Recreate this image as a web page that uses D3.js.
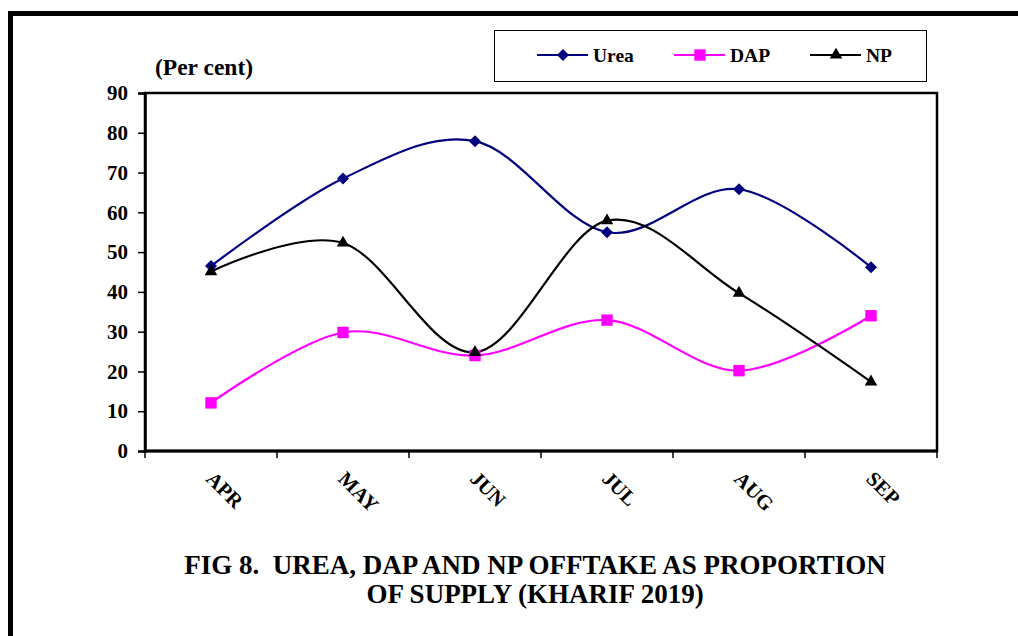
<!DOCTYPE html>
<html>
<head>
<meta charset="utf-8">
<script src="https://cdn.jsdelivr.net/npm/d3@7"></script>
<style>
  body { margin: 0; background: #fff; }
  svg { display: block; }
  svg text { font-family: "Liberation Serif", "Times New Roman", serif; font-weight: bold; white-space: pre; }
</style>
</head>
<body>
<svg id="chart" width="1018" height="636"></svg>
<script>
const months = ['APR', 'MAY', 'JUN', 'JUL', 'AUG', 'SEP']
const urea = [46.5, 68.5, 77.9, 55.0, 65.8, 46.2]
const dap = [12.1, 29.8, 24.0, 32.9, 20.2, 34.0]
const np = [45.1, 52.3, 24.8, 57.9, 39.7, 17.4]
const yTicks = [0, 10, 20, 30, 40, 50, 60, 70, 80, 90]
const seriesNames = ['Urea', 'DAP', 'NP']
const titleLines = ['FIG 8.  UREA, DAP AND NP OFFTAKE AS PROPORTION', 'OF SUPPLY (KHARIF 2019)']

const svg = d3.select('#chart')
const plot = { left: 145, top: 93, right: 937, bottom: 451 }

// outer frame
svg.append('rect')
  .attr('x', 10.5).attr('y', 13.5)
  .attr('width', 1030).attr('height', 660)
  .attr('fill', 'none').attr('stroke', '#000').attr('stroke-width', 5)

const x = d3.scaleBand().domain(months).range([plot.left, plot.right])
const y = d3.scaleLinear().domain([0, 90]).range([plot.bottom, plot.top])

// plot area box
svg.append('rect')
  .attr('x', plot.left).attr('y', plot.top)
  .attr('width', plot.right - plot.left).attr('height', plot.bottom - plot.top)
  .attr('fill', 'none').attr('stroke', '#000').attr('stroke-width', 2.5)

// y axis
const yAxis = svg.append('g')
  .attr('transform', `translate(${plot.left},0)`)
  .call(d3.axisLeft(y).tickValues(yTicks).tickSize(7).tickPadding(10))
yAxis.attr('font-family', null).attr('font-size', null)
yAxis.select('.domain').attr('stroke-width', 2.5)
yAxis.selectAll('line').attr('stroke-width', 1.5)
yAxis.selectAll('text').attr('font-size', 21).attr('fill', '#000')

// x axis, ticks sit on the band edges
const xEdges = months.map((m) => x(m)).concat([plot.right])
const xAxis = svg.append('g')
  .attr('transform', `translate(0,${plot.bottom})`)
xAxis.append('line')
  .attr('x1', plot.left).attr('x2', plot.right)
  .attr('stroke', '#000').attr('stroke-width', 3)
xAxis.selectAll('line.tick')
  .data(xEdges)
  .enter().append('line')
  .attr('class', 'tick')
  .attr('x1', (d) => d).attr('x2', (d) => d)
  .attr('y1', 0).attr('y2', 7)
  .attr('stroke', '#000').attr('stroke-width', 1.5)
xAxis.selectAll('text')
  .data(months)
  .enter().append('text')
  .attr('transform', (d) => `translate(${x(d) + x.bandwidth() / 2 - 6},${29}) rotate(45)`)
  .attr('font-size', 20.5)
  .attr('fill', '#000')
  .text((d) => d)

// y caption
svg.append('text')
  .attr('x', 155).attr('y', 75)
  .attr('font-size', 23.5)
  .text('(Per cent)')

const cx = (i) => x(months[i]) + x.bandwidth() / 2
const line = d3.line()
  .x((d, i) => cx(i))
  .y((d) => y(d))
  .curve(d3.curveCatmullRom.alpha(0))

// diamond is a square turned 45deg
const series = [
  { name: seriesNames[0], values: urea, color: '#000080', symbol: d3.symbolSquare, size: 72, rot: 45 },
  { name: seriesNames[1], values: dap, color: '#ff00ff', symbol: d3.symbolSquare, size: 130, rot: 0 },
  { name: seriesNames[2], values: np, color: '#000000', symbol: d3.symbolTriangle, size: 68, rot: 0 }
]

series.forEach((s) => {
  svg.append('path')
    .attr('d', line(s.values))
    .attr('fill', 'none')
    .attr('stroke', s.color)
    .attr('stroke-width', 2.2)
})
series.forEach((s) => {
  svg.selectAll(null)
    .data(s.values)
    .enter().append('path')
    .attr('transform', (d, i) => `translate(${cx(i)},${y(d)}) rotate(${s.rot})`)
    .attr('d', d3.symbol().type(s.symbol).size(s.size))
    .attr('fill', s.color)
})

// legend
const legend = svg.append('g')
legend.append('rect')
  .attr('x', 494.5).attr('y', 30.5)
  .attr('width', 432).attr('height', 51)
  .attr('fill', '#fff').attr('stroke', '#000').attr('stroke-width', 1)
const legendX = [537, 674, 810]
series.forEach((s, i) => {
  const g = legend.append('g').attr('transform', `translate(${legendX[i]},55)`)
  g.append('line').attr('x1', 0).attr('x2', 51)
    .attr('stroke', s.color).attr('stroke-width', 2.2)
  g.append('path')
    .attr('transform', `translate(26,0) rotate(${s.rot})`)
    .attr('d', d3.symbol().type(s.symbol).size(s.size))
    .attr('fill', s.color)
  g.append('text').attr('x', 56).attr('y', 7)
    .attr('font-size', 19.5)
    .text(s.name)
})

// title
svg.selectAll('text.title')
  .data(titleLines)
  .enter().append('text')
  .attr('class', 'title')
  .attr('x', 535)
  .attr('y', (d, i) => 574 + i * 29)
  .attr('text-anchor', 'middle')
  .attr('font-size', 27)
  .text((d) => d)
</script>
</body>
</html>
